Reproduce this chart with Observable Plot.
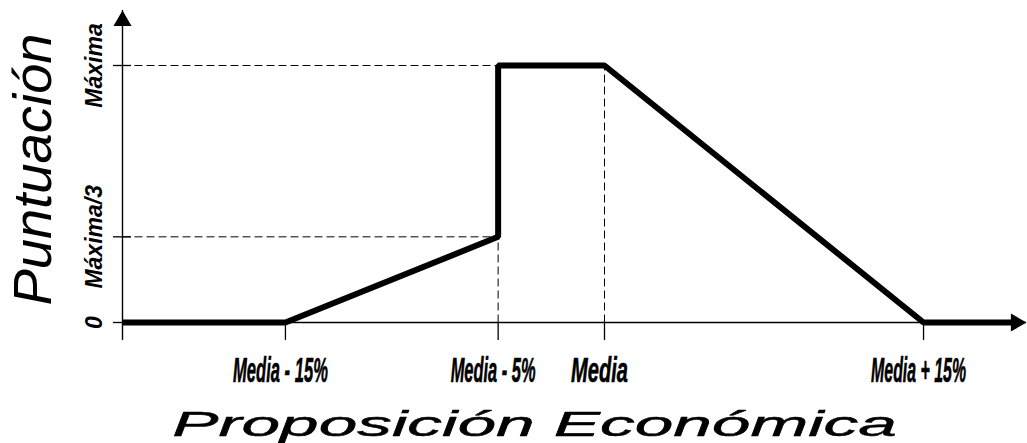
<!DOCTYPE html>
<html>
<head>
<meta charset="utf-8">
<script src="https://cdn.jsdelivr.net/npm/d3@7"></script>
<script src="https://cdn.jsdelivr.net/npm/@observablehq/plot@0.6"></script>
<style>
  html, body { margin: 0; padding: 0; background: #fff; }
  #chart svg { display: block; }
</style>
</head>
<body>
<div id="chart"></div>
<script>
// ---- data ----
const xTickValues = [-15, -5, 0, 15];               // % relative to the mean
const xTickLabels = ["Media - 15%", "Media - 5%", "Media", "Media + 15%"];
const yTickValues = [0, 1 / 3, 1];                   // fraction of max score
const yTickLabels = ["0", "Máxima/3", "Máxima"];
const curveX = [-22.66, -15, -5, -5, 0, 15, 19.35];
const curveY = [0, 0, 1 / 3, 1, 1, 0, 0];
const xDomain = [-22.66, 19.84];
const yDomain = [0, 1.214];
const xTitle = "Proposición Económica";
const yTitle = "Puntuación";

// ---- styles ----
const xLabelWidths = [95, 85, 57, 95];
const labelFont = "'Liberation Sans', Arial, sans-serif";

const curve = curveX.map((x, i) => ({x, y: curveY[i]}));
// dashed guides: from the y axis to the step at Media - 5%, and verticals down to the axis
const guides = [
  {x1: xDomain[0], y1: yTickValues[2], x2: xTickValues[1], y2: yTickValues[2]},
  {x1: xDomain[0], y1: yTickValues[1], x2: xTickValues[1], y2: yTickValues[1]},
  {x1: xTickValues[1], y1: yTickValues[0], x2: xTickValues[1], y2: yTickValues[1]},
  {x1: xTickValues[2], y1: yTickValues[0], x2: xTickValues[2], y2: yTickValues[2]}
];
const tickExtent = -0.07;

const chart = Plot.plot({
  width: 1027,
  height: 443,
  marginLeft: 122,
  marginRight: 1,
  marginTop: 10,
  marginBottom: 121,
  x: {domain: xDomain},
  y: {domain: yDomain},
  style: {background: "#fff", color: "#000"},
  marks: [
    Plot.link(guides, {x1: "x1", y1: "y1", x2: "x2", y2: "y2", stroke: "#000", strokeWidth: 1, strokeDasharray: "8,4"}),
    Plot.ruleX([xDomain[0]], {y1: tickExtent, y2: yDomain[1], stroke: "#000", strokeWidth: 1.4}),
    Plot.ruleY([0], {x1: xDomain[0], x2: xDomain[1], stroke: "#000", strokeWidth: 1.4}),
    Plot.axisX({ticks: xTickValues, tickSize: 18, tickFormat: () => "", label: null, strokeWidth: 1.3}),
    Plot.axisY({ticks: yTickValues, tickSize: 18, dx: 9, tickFormat: () => "", label: null, strokeWidth: 1.3}),
    Plot.line(curve, {x: "x", y: "y", stroke: "#000", strokeWidth: 6, strokeLinejoin: "miter", strokeLinecap: "butt"}),
    Plot.dot([[xDomain[1], 0]], {x: d => d[0], y: d => d[1], symbol: "triangle", r: 6.7, rotate: 90, dx: -10.4, fill: "#000", stroke: "none"}),
    Plot.dot([[xDomain[0], yDomain[1]]], {x: d => d[0], y: d => d[1], symbol: "triangle", r: 6.7, dy: 10.4, fill: "#000", stroke: "none"}),
    Plot.text(xTickLabels, {
      x: xTickValues, text: Plot.identity, frameAnchor: "bottom", lineAnchor: "top",
      dy: 35, dx: -5, fontSize: 35, fontWeight: "bold", fontStyle: "italic",
      fontFamily: labelFont, fill: "#000", stroke: "#000", strokeWidth: 0.6, ariaDescription: "xlabels"
    }),
    Plot.text(yTickLabels, {
      y: yTickValues, text: Plot.identity, frameAnchor: "left", rotate: -90,
      lineAnchor: "middle", textAnchor: "middle", dx: -28, fontSize: 23,
      fontWeight: "bold", fontStyle: "italic", fontFamily: labelFont, fill: "#000", ariaDescription: "ylabels"
    }),
    Plot.text([xTitle], {
      text: Plot.identity, frameAnchor: "bottom", lineAnchor: "bottom", textAnchor: "middle",
      dy: 113, dx: -40, fontSize: 36, fontStyle: "italic", fontFamily: labelFont, fill: "#000",
      stroke: "#000", strokeWidth: 0.5, ariaDescription: "xtitle"
    }),
    Plot.text([yTitle], {
      text: Plot.identity, frameAnchor: "left", rotate: -90, lineAnchor: "bottom", textAnchor: "middle",
      dx: -72, dy: 3, fontSize: 53, fontStyle: "italic", fontFamily: labelFont, fill: "#000", ariaDescription: "ytitle"
    })
  ]
});

document.getElementById("chart").appendChild(chart);

// horizontal compression / stretching of texts (along the text direction), scaled about each text's centre
const fitWidth = (sel, lens) => {
  chart.querySelectorAll(`g[aria-description="${sel}"] text`).forEach((t, i) => {
    const L = Array.isArray(lens) ? lens[i] : lens;
    const b = t.getBBox();
    if (!b.width) return;
    const s = L / b.width;
    const cx = b.x + b.width / 2;
    const T = t.getAttribute("transform") || "";
    t.setAttribute("transform", `${T} translate(${cx},0) scale(${s},1) translate(${-cx},0)`);
  });
};
fitWidth("xlabels", xLabelWidths);
fitWidth("xtitle", 725);
fitWidth("ytitle", 272);
</script>
</body>
</html>
